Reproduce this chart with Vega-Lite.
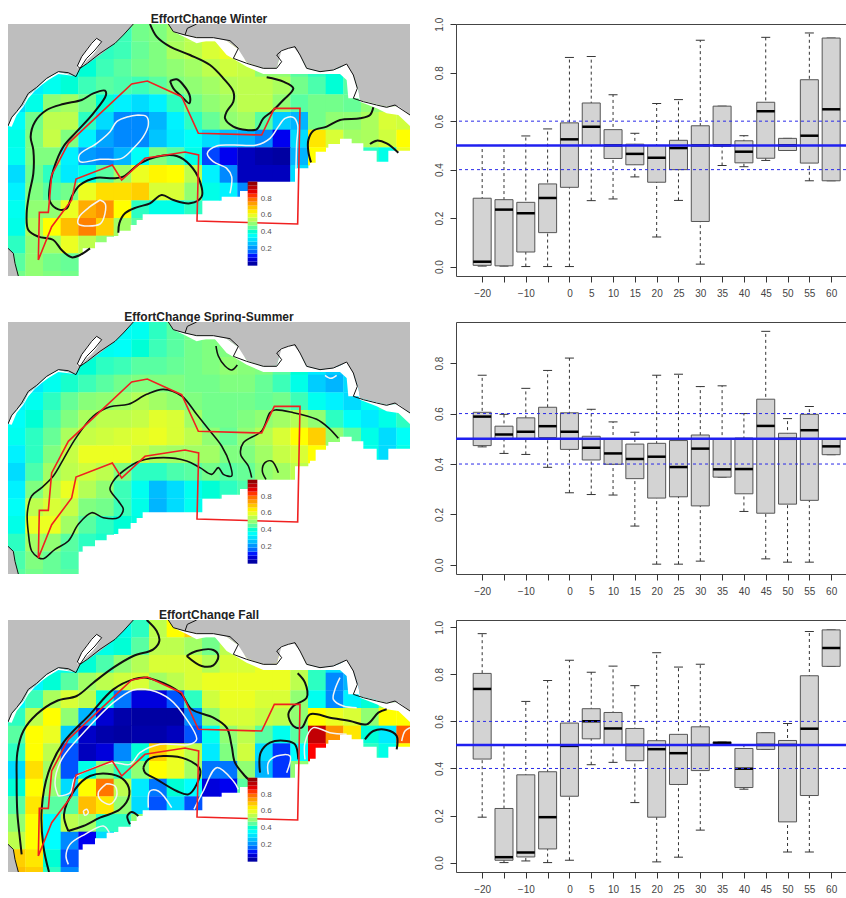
{"$schema":"https://vega.github.io/schema/vega-lite/v6.json","padding":{"left":8,"top":13,"right":0,"bottom":0},"background":"white","bounds":"flush","columns":2,"spacing":{"row":46,"column":46},"config":{"view":{"stroke":null},"text":{"font":"Liberation Sans"},"axis":{"labelFont":"Liberation Sans"}},
"datasets":{
"top":[{"x":24,"c":378,"s":378},{"x":35,"c":355,"s":380},{"x":50,"c":335,"s":345},{"x":70,"c":315,"s":320},{"x":85,"c":285,"s":295},{"x":105,"c":270,"s":272},{"x":125,"c":250,"s":255},{"x":145,"c":232,"s":240},{"x":175,"c":215,"s":222},{"x":225,"c":228,"s":228},{"x":240,"c":205,"s":205},{"x":265,"c":190,"s":190},{"x":300,"c":165,"s":165},{"x":345,"c":130,"s":130},{"x":375,"c":100,"s":100},{"x":400,"c":72,"s":72},{"x":505,"c":72,"s":72},{"x":520,"c":95,"s":95},{"x":555,"c":105,"s":112},{"x":590,"c":113,"s":130},{"x":640,"c":113,"s":118},{"x":680,"c":122,"s":165},{"x":715,"c":148,"s":185},{"x":740,"c":187,"s":200},{"x":790,"c":205,"s":222},{"x":830,"c":203,"s":222},{"x":845,"c":150,"s":222},{"x":880,"c":140,"s":222},{"x":900,"c":165,"s":222},{"x":920,"c":205,"s":222},{"x":960,"c":215,"s":222},{"x":1000,"c":210,"s":222},{"x":1020,"c":203,"s":222},{"x":1040,"c":192,"s":240},{"x":1045,"c":200,"s":295},{"x":1062,"c":230,"s":295},{"x":1075,"c":270,"s":295},{"x":1080,"c":300,"s":305},{"x":1130,"c":312,"s":325},{"x":1160,"c":320,"s":340},{"x":1195,"c":318,"s":345},{"x":1230,"c":345,"s":378}],
"bot":[{"x":24,"b":828},{"x":248,"b":745},{"x":285,"b":727},{"x":320,"b":710},{"x":355,"b":692},{"x":392,"b":675},{"x":410,"b":660},{"x":428,"b":643},{"x":610,"b":625},{"x":645,"b":608},{"x":665,"b":590},{"x":720,"b":573},{"x":745,"b":545},{"x":885,"b":505},{"x":930,"b":488},{"x":947,"b":455},{"x":985,"b":432},{"x":1020,"b":416},{"x":1055,"b":430},{"x":1090,"b":452},{"x":1130,"b":485},{"x":1165,"b":452},{"x":1240,"b":452}],
"lake":[{"x":232,"y":198,"b":205},{"x":245,"y":170,"b":200},{"x":262,"y":145,"b":180},{"x":278,"y":125,"b":165},{"x":290,"y":115,"b":150},{"x":305,"y":125,"b":125}],
"sw":[{"x":24,"y":745},{"x":40,"y":760},{"x":45,"y":790},{"x":55,"y":828}],
"coast":[{"g":1,"x":24,"y":378},{"g":1,"x":35,"y":352},{"g":1,"x":50,"y":335},{"g":1,"x":65,"y":315},{"g":1,"x":85,"y":280},{"g":1,"x":110,"y":262},{"g":1,"x":140,"y":235},{"g":1,"x":175,"y":215},{"g":1,"x":205,"y":218},{"g":1,"x":228,"y":230},{"g":1,"x":240,"y":205},{"g":1,"x":262,"y":190},{"g":1,"x":300,"y":160},{"g":1,"x":345,"y":130},{"g":1,"x":370,"y":105},{"g":1,"x":400,"y":72},{"g":2,"x":505,"y":72},{"g":2,"x":520,"y":95},{"g":2,"x":555,"y":105},{"g":2,"x":590,"y":113},{"g":2,"x":640,"y":113},{"g":2,"x":690,"y":122},{"g":2,"x":715,"y":145},{"g":2,"x":700,"y":175},{"g":2,"x":740,"y":190},{"g":2,"x":790,"y":205},{"g":2,"x":830,"y":205},{"g":2,"x":845,"y":185},{"g":2,"x":830,"y":165},{"g":2,"x":845,"y":152},{"g":2,"x":865,"y":145},{"g":2,"x":885,"y":140},{"g":2,"x":900,"y":165},{"g":2,"x":920,"y":205},{"g":2,"x":960,"y":215},{"g":2,"x":1000,"y":210},{"g":2,"x":1040,"y":192},{"g":2,"x":1060,"y":225},{"g":2,"x":1072,"y":265},{"g":2,"x":1060,"y":295},{"g":2,"x":1090,"y":305},{"g":2,"x":1130,"y":315},{"g":2,"x":1160,"y":322},{"g":2,"x":1185,"y":315},{"g":2,"x":1230,"y":345},{"g":3,"x":555,"y":105},{"g":3,"x":562,"y":85},{"g":3,"x":590,"y":72},{"g":4,"x":24,"y":745},{"g":4,"x":40,"y":760},{"g":4,"x":45,"y":790},{"g":4,"x":55,"y":828},{"g":5,"x":232,"y":198},{"g":5,"x":245,"y":170},{"g":5,"x":275,"y":130},{"g":5,"x":290,"y":115},{"g":5,"x":305,"y":125},{"g":5,"x":285,"y":150},{"g":5,"x":260,"y":175},{"g":5,"x":240,"y":205},{"g":5,"x":232,"y":198}],
"red":[{"x":115,"y":780},{"x":118,"y":637},{"x":145,"y":637},{"x":155,"y":525},{"x":205,"y":430},{"x":395,"y":252},{"x":442,"y":243},{"x":545,"y":290},{"x":595,"y":400},{"x":785,"y":405},{"x":823,"y":325},{"x":900,"y":325},{"x":893,"y":672},{"x":591,"y":663},{"x":596,"y":465},{"x":555,"y":456},{"x":435,"y":475},{"x":365,"y":540},{"x":337,"y":495},{"x":228,"y":537},{"x":215,"y":600},{"x":155,"y":680},{"x":115,"y":780}],
"cb":[{"v":0.024,"y":797,"b":785},{"v":0.071,"y":785,"b":773},{"v":0.119,"y":773,"b":761},{"v":0.167,"y":761,"b":749},{"v":0.214,"y":749,"b":737},{"v":0.262,"y":737,"b":725},{"v":0.31,"y":725,"b":713},{"v":0.357,"y":713,"b":701},{"v":0.405,"y":701,"b":689},{"v":0.452,"y":689,"b":677},{"v":0.5,"y":677,"b":665},{"v":0.548,"y":665,"b":653},{"v":0.595,"y":653,"b":641},{"v":0.643,"y":641,"b":629},{"v":0.69,"y":629,"b":617},{"v":0.738,"y":617,"b":605},{"v":0.786,"y":605,"b":593},{"v":0.833,"y":593,"b":581},{"v":0.881,"y":581,"b":569},{"v":0.929,"y":569,"b":557},{"v":0.976,"y":557,"b":545}],
"cbt":[{"y":596,"t":"0.8"},{"y":646,"t":"0.6"},{"y":696,"t":"0.4"},{"y":747,"t":"0.2"}],
"m1":[{"x":421,"y":98,"v":0.47},{"x":368,"y":98,"v":0.43},{"x":474,"y":98,"v":0.48},{"x":527,"y":98,"v":0.52},{"x":580,"y":98,"v":0.55},
{"x":262,"y":151,"v":0.4},{"x":315,"y":151,"v":0.42},{"x":368,"y":151,"v":0.43},{"x":421,"y":151,"v":0.46},{"x":474,"y":151,"v":0.48},{"x":527,"y":151,"v":0.53},{"x":580,"y":151,"v":0.55},{"x":633,"y":151,"v":0.58},{"x":686,"y":151,"v":0.6},
{"x":156,"y":204,"v":0.36},{"x":209,"y":204,"v":0.38},{"x":262,"y":204,"v":0.4},{"x":315,"y":204,"v":0.43},{"x":368,"y":204,"v":0.45},{"x":421,"y":204,"v":0.47},{"x":474,"y":204,"v":0.48},{"x":527,"y":204,"v":0.5},{"x":580,"y":204,"v":0.52},{"x":633,"y":204,"v":0.55},{"x":686,"y":204,"v":0.57},{"x":739,"y":204,"v":0.56},{"x":792,"y":204,"v":0.5},{"x":845,"y":204,"v":0.5},{"x":898,"y":204,"v":0.45},{"x":951,"y":204,"v":0.42},{"x":1004,"y":204,"v":0.4},
{"x":103,"y":257,"v":0.33},{"x":156,"y":257,"v":0.37},{"x":209,"y":257,"v":0.4},{"x":262,"y":257,"v":0.43},{"x":315,"y":257,"v":0.45},{"x":368,"y":257,"v":0.44},{"x":421,"y":257,"v":0.43},{"x":474,"y":257,"v":0.45},{"x":527,"y":257,"v":0.48},{"x":580,"y":257,"v":0.5},{"x":633,"y":257,"v":0.52},{"x":686,"y":257,"v":0.54},{"x":739,"y":257,"v":0.55},{"x":792,"y":257,"v":0.55},{"x":845,"y":257,"v":0.53},{"x":898,"y":257,"v":0.47},{"x":951,"y":257,"v":0.44},{"x":1004,"y":257,"v":0.4},{"x":1057,"y":257,"v":0.45},
{"x":50,"y":310,"v":0.3},{"x":103,"y":310,"v":0.38},{"x":156,"y":310,"v":0.5},{"x":209,"y":310,"v":0.52},{"x":262,"y":310,"v":0.47},{"x":315,"y":310,"v":0.4},{"x":368,"y":310,"v":0.33},{"x":421,"y":310,"v":0.3},{"x":474,"y":310,"v":0.33},{"x":527,"y":310,"v":0.42},{"x":580,"y":310,"v":0.47},{"x":633,"y":310,"v":0.5},{"x":686,"y":310,"v":0.52},{"x":739,"y":310,"v":0.55},{"x":792,"y":310,"v":0.55},{"x":845,"y":310,"v":0.5},{"x":898,"y":310,"v":0.45},{"x":951,"y":310,"v":0.47},{"x":1004,"y":310,"v":0.47},{"x":1057,"y":310,"v":0.46},{"x":1110,"y":310,"v":0.5},{"x":1163,"y":310,"v":0.52},
{"x":50,"y":363,"v":0.36},{"x":103,"y":363,"v":0.47},{"x":156,"y":363,"v":0.55},{"x":209,"y":363,"v":0.55},{"x":262,"y":363,"v":0.42},{"x":315,"y":363,"v":0.3},{"x":368,"y":363,"v":0.2},{"x":421,"y":363,"v":0.2},{"x":474,"y":363,"v":0.25},{"x":527,"y":363,"v":0.33},{"x":580,"y":363,"v":0.42},{"x":633,"y":363,"v":0.46},{"x":686,"y":363,"v":0.5},{"x":739,"y":363,"v":0.52},{"x":792,"y":363,"v":0.45},{"x":845,"y":363,"v":0.28},{"x":898,"y":363,"v":0.25},{"x":951,"y":363,"v":0.47},{"x":1004,"y":363,"v":0.5},{"x":1057,"y":363,"v":0.5},{"x":1110,"y":363,"v":0.53},{"x":1163,"y":363,"v":0.58},{"x":1216,"y":363,"v":0.57},
{"x":50,"y":416,"v":0.38},{"x":103,"y":416,"v":0.48},{"x":156,"y":416,"v":0.56},{"x":209,"y":416,"v":0.48},{"x":262,"y":416,"v":0.33},{"x":315,"y":416,"v":0.23},{"x":368,"y":416,"v":0.2},{"x":421,"y":416,"v":0.2},{"x":474,"y":416,"v":0.27},{"x":527,"y":416,"v":0.32},{"x":580,"y":416,"v":0.36},{"x":633,"y":416,"v":0.3},{"x":686,"y":416,"v":0.26},{"x":739,"y":416,"v":0.25},{"x":792,"y":416,"v":0.2},{"x":845,"y":416,"v":0.1},{"x":898,"y":416,"v":0.3},{"x":951,"y":416,"v":0.65},{"x":1004,"y":416,"v":0.58},{"x":1057,"y":416,"v":0.52},{"x":1110,"y":416,"v":0.53},{"x":1163,"y":416,"v":0.57},{"x":1216,"y":416,"v":0.62},
{"x":50,"y":469,"v":0.37},{"x":103,"y":469,"v":0.48},{"x":156,"y":469,"v":0.48},{"x":209,"y":469,"v":0.33},{"x":262,"y":469,"v":0.22},{"x":315,"y":469,"v":0.2},{"x":368,"y":469,"v":0.25},{"x":421,"y":469,"v":0.36},{"x":474,"y":469,"v":0.48},{"x":527,"y":469,"v":0.45},{"x":580,"y":469,"v":0.38},{"x":633,"y":469,"v":0.14},{"x":686,"y":469,"v":0.1},{"x":739,"y":469,"v":0.05},{"x":792,"y":469,"v":0.03},{"x":845,"y":469,"v":0.02},{"x":898,"y":469,"v":0.25},{"x":951,"y":469,"v":0.62},{"x":1110,"y":469,"v":0.42},{"x":1163,"y":469,"v":0.38},{"x":1216,"y":469,"v":0.6},
{"x":50,"y":522,"v":0.3},{"x":103,"y":522,"v":0.47},{"x":156,"y":522,"v":0.42},{"x":209,"y":522,"v":0.32},{"x":262,"y":522,"v":0.38},{"x":315,"y":522,"v":0.45},{"x":368,"y":522,"v":0.52},{"x":421,"y":522,"v":0.6},{"x":474,"y":522,"v":0.63},{"x":527,"y":522,"v":0.62},{"x":580,"y":522,"v":0.55},{"x":633,"y":522,"v":0.33},{"x":686,"y":522,"v":0.2},{"x":739,"y":522,"v":0.05},{"x":792,"y":522,"v":0.05},{"x":845,"y":522,"v":0.05},{"x":898,"y":522,"v":0.3},
{"x":50,"y":575,"v":0.33},{"x":103,"y":575,"v":0.48},{"x":156,"y":575,"v":0.45},{"x":209,"y":575,"v":0.47},{"x":262,"y":575,"v":0.6},{"x":315,"y":575,"v":0.66},{"x":368,"y":575,"v":0.66},{"x":421,"y":575,"v":0.68},{"x":474,"y":575,"v":0.58},{"x":527,"y":575,"v":0.58},{"x":580,"y":575,"v":0.5},{"x":633,"y":575,"v":0.38},{"x":686,"y":575,"v":0.33},{"x":739,"y":575,"v":0.2},
{"x":50,"y":628,"v":0.37},{"x":103,"y":628,"v":0.5},{"x":156,"y":628,"v":0.5},{"x":209,"y":628,"v":0.6},{"x":262,"y":628,"v":0.72},{"x":315,"y":628,"v":0.75},{"x":368,"y":628,"v":0.62},{"x":421,"y":628,"v":0.42},{"x":474,"y":628,"v":0.38},{"x":527,"y":628,"v":0.38},{"x":580,"y":628,"v":0.42},
{"x":50,"y":681,"v":0.38},{"x":103,"y":681,"v":0.53},{"x":156,"y":681,"v":0.62},{"x":209,"y":681,"v":0.7},{"x":262,"y":681,"v":0.77},{"x":315,"y":681,"v":0.68},{"x":368,"y":681,"v":0.52},{"x":421,"y":681,"v":0.45},
{"x":50,"y":734,"v":0.42},{"x":103,"y":734,"v":0.5},{"x":156,"y":734,"v":0.52},{"x":209,"y":734,"v":0.6},{"x":262,"y":734,"v":0.55},{"x":315,"y":734,"v":0.5},
{"x":50,"y":787,"v":0.45},{"x":103,"y":787,"v":0.5},{"x":156,"y":787,"v":0.47},{"x":209,"y":787,"v":0.46},{"x":50,"y":840,"v":0.47},{"x":103,"y":840,"v":0.5},{"x":156,"y":840,"v":0.48},{"x":209,"y":840,"v":0.47}],
"k1":[{"g":1,"x":450,"y":72},{"g":1,"x":470,"y":110},{"g":1,"x":510,"y":140},{"g":1,"x":570,"y":165},{"g":1,"x":630,"y":195},{"g":1,"x":670,"y":235},{"g":1,"x":700,"y":275},{"g":1,"x":700,"y":305},{"g":1,"x":680,"y":335},{"g":1,"x":675,"y":355},{"g":1,"x":700,"y":380},{"g":1,"x":740,"y":390},{"g":1,"x":770,"y":388},{"g":1,"x":790,"y":355},{"g":1,"x":815,"y":335},{"g":1,"x":850,"y":300},{"g":1,"x":880,"y":265},{"g":1,"x":850,"y":245},{"g":1,"x":800,"y":232},
{"g":2,"x":510,"y":243},{"g":2,"x":530,"y":238},{"g":2,"x":550,"y":255},{"g":2,"x":570,"y":290},{"g":2,"x":568,"y":310},{"g":2,"x":545,"y":290},{"g":2,"x":520,"y":265},{"g":2,"x":510,"y":243},
{"g":3,"x":270,"y":745},{"g":3,"x":240,"y":765},{"g":3,"x":215,"y":772},{"g":3,"x":185,"y":750},{"g":3,"x":160,"y":720},{"g":3,"x":115,"y":710},{"g":3,"x":85,"y":690},{"g":3,"x":80,"y":640},{"g":3,"x":88,"y":580},{"g":3,"x":100,"y":520},{"g":3,"x":100,"y":450},{"g":3,"x":92,"y":410},{"g":3,"x":105,"y":365},{"g":3,"x":140,"y":330},{"g":3,"x":190,"y":312},{"g":3,"x":245,"y":300},{"g":3,"x":280,"y":280},{"g":3,"x":315,"y":272},{"g":3,"x":318,"y":285},{"g":3,"x":280,"y":340},{"g":3,"x":230,"y":395},{"g":3,"x":190,"y":440},{"g":3,"x":160,"y":510},{"g":3,"x":148,"y":570},{"g":3,"x":150,"y":605},{"g":3,"x":175,"y":628},{"g":3,"x":200,"y":625},{"g":3,"x":215,"y":590},{"g":3,"x":240,"y":555},{"g":3,"x":290,"y":533},{"g":3,"x":340,"y":535},{"g":3,"x":370,"y":530},{"g":3,"x":420,"y":490},{"g":3,"x":470,"y":470},{"g":3,"x":530,"y":468},{"g":3,"x":570,"y":495},{"g":3,"x":600,"y":545},{"g":3,"x":605,"y":590},{"g":3,"x":570,"y":610},{"g":3,"x":520,"y":600},{"g":3,"x":485,"y":585},{"g":3,"x":450,"y":610},{"g":3,"x":410,"y":622},{"g":3,"x":375,"y":640},{"g":3,"x":358,"y":670},{"g":3,"x":355,"y":698},
{"g":4,"x":1120,"y":322},{"g":4,"x":1110,"y":345},{"g":4,"x":1080,"y":355},{"g":4,"x":1020,"y":360},{"g":4,"x":980,"y":380},{"g":4,"x":940,"y":392},{"g":4,"x":925,"y":420},{"g":4,"x":925,"y":455},{"g":4,"x":933,"y":487},
{"g":5,"x":1110,"y":432},{"g":5,"x":1130,"y":422},{"g":5,"x":1160,"y":430},{"g":5,"x":1195,"y":458}],
"c1":[{"g":1,"x":415,"y":345},{"g":1,"x":440,"y":350},{"g":1,"x":445,"y":375},{"g":1,"x":430,"y":410},{"g":1,"x":400,"y":445},{"g":1,"x":365,"y":475},{"g":1,"x":300,"y":478},{"g":1,"x":240,"y":485},{"g":1,"x":238,"y":465},{"g":1,"x":290,"y":430},{"g":1,"x":330,"y":395},{"g":1,"x":350,"y":365},{"g":1,"x":385,"y":350},{"g":1,"x":415,"y":345},
{"g":2,"x":690,"y":580},{"g":2,"x":695,"y":530},{"g":2,"x":680,"y":505},{"g":2,"x":640,"y":485},{"g":2,"x":622,"y":460},{"g":2,"x":650,"y":438},{"g":2,"x":700,"y":435},{"g":2,"x":770,"y":435},{"g":2,"x":810,"y":415},{"g":2,"x":835,"y":380},{"g":2,"x":855,"y":355},{"g":2,"x":880,"y":352},{"g":2,"x":893,"y":375},{"g":2,"x":890,"y":430},{"g":2,"x":888,"y":505},
{"g":3,"x":300,"y":600},{"g":3,"x":315,"y":610},{"g":3,"x":315,"y":640},{"g":3,"x":300,"y":672},{"g":3,"x":235,"y":672},{"g":3,"x":238,"y":650},{"g":3,"x":270,"y":620},{"g":3,"x":300,"y":600}],
"m2":[{"x":368,"y":98,"v":0.36},{"x":421,"y":98,"v":0.37},{"x":474,"y":98,"v":0.42},{"x":527,"y":98,"v":0.45},{"x":580,"y":98,"v":0.47},
{"x":262,"y":151,"v":0.38},{"x":315,"y":151,"v":0.37},{"x":368,"y":151,"v":0.36},{"x":421,"y":151,"v":0.4},{"x":474,"y":151,"v":0.43},{"x":527,"y":151,"v":0.45},{"x":580,"y":151,"v":0.47},{"x":633,"y":151,"v":0.48},{"x":686,"y":151,"v":0.48},
{"x":156,"y":204,"v":0.36},{"x":209,"y":204,"v":0.38},{"x":262,"y":204,"v":0.4},{"x":315,"y":204,"v":0.42},{"x":368,"y":204,"v":0.43},{"x":421,"y":204,"v":0.45},{"x":474,"y":204,"v":0.45},{"x":527,"y":204,"v":0.46},{"x":580,"y":204,"v":0.47},{"x":633,"y":204,"v":0.48},{"x":686,"y":204,"v":0.5},{"x":739,"y":204,"v":0.49},{"x":792,"y":204,"v":0.48},{"x":845,"y":204,"v":0.45},{"x":898,"y":204,"v":0.4},{"x":951,"y":204,"v":0.32},{"x":1004,"y":204,"v":0.28},
{"x":103,"y":257,"v":0.32},{"x":156,"y":257,"v":0.37},{"x":209,"y":257,"v":0.41},{"x":262,"y":257,"v":0.43},{"x":315,"y":257,"v":0.45},{"x":368,"y":257,"v":0.47},{"x":421,"y":257,"v":0.48},{"x":474,"y":257,"v":0.48},{"x":527,"y":257,"v":0.48},{"x":580,"y":257,"v":0.47},{"x":633,"y":257,"v":0.47},{"x":686,"y":257,"v":0.48},{"x":739,"y":257,"v":0.48},{"x":792,"y":257,"v":0.46},{"x":845,"y":257,"v":0.43},{"x":898,"y":257,"v":0.38},{"x":951,"y":257,"v":0.28},{"x":1004,"y":257,"v":0.25},{"x":1057,"y":257,"v":0.3},
{"x":50,"y":310,"v":0.33},{"x":103,"y":310,"v":0.37},{"x":156,"y":310,"v":0.42},{"x":209,"y":310,"v":0.46},{"x":262,"y":310,"v":0.49},{"x":315,"y":310,"v":0.5},{"x":368,"y":310,"v":0.52},{"x":421,"y":310,"v":0.54},{"x":474,"y":310,"v":0.52},{"x":527,"y":310,"v":0.5},{"x":580,"y":310,"v":0.48},{"x":633,"y":310,"v":0.47},{"x":686,"y":310,"v":0.47},{"x":739,"y":310,"v":0.47},{"x":792,"y":310,"v":0.46},{"x":845,"y":310,"v":0.47},{"x":898,"y":310,"v":0.43},{"x":951,"y":310,"v":0.37},{"x":1004,"y":310,"v":0.33},{"x":1057,"y":310,"v":0.3},{"x":1110,"y":310,"v":0.37},{"x":1163,"y":310,"v":0.42},
{"x":50,"y":363,"v":0.36},{"x":103,"y":363,"v":0.4},{"x":156,"y":363,"v":0.44},{"x":209,"y":363,"v":0.48},{"x":262,"y":363,"v":0.53},{"x":315,"y":363,"v":0.55},{"x":368,"y":363,"v":0.55},{"x":421,"y":363,"v":0.56},{"x":474,"y":363,"v":0.59},{"x":527,"y":363,"v":0.58},{"x":580,"y":363,"v":0.52},{"x":633,"y":363,"v":0.47},{"x":686,"y":363,"v":0.47},{"x":739,"y":363,"v":0.48},{"x":792,"y":363,"v":0.5},{"x":845,"y":363,"v":0.52},{"x":898,"y":363,"v":0.54},{"x":951,"y":363,"v":0.5},{"x":1004,"y":363,"v":0.42},{"x":1057,"y":363,"v":0.36},{"x":1110,"y":363,"v":0.32},{"x":1163,"y":363,"v":0.38},{"x":1216,"y":363,"v":0.42},
{"x":50,"y":416,"v":0.37},{"x":103,"y":416,"v":0.42},{"x":156,"y":416,"v":0.46},{"x":209,"y":416,"v":0.53},{"x":262,"y":416,"v":0.56},{"x":315,"y":416,"v":0.57},{"x":368,"y":416,"v":0.58},{"x":421,"y":416,"v":0.59},{"x":474,"y":416,"v":0.6},{"x":527,"y":416,"v":0.58},{"x":580,"y":416,"v":0.55},{"x":633,"y":416,"v":0.5},{"x":686,"y":416,"v":0.46},{"x":739,"y":416,"v":0.5},{"x":792,"y":416,"v":0.54},{"x":845,"y":416,"v":0.58},{"x":898,"y":416,"v":0.62},{"x":951,"y":416,"v":0.68},{"x":1004,"y":416,"v":0.5},{"x":1057,"y":416,"v":0.45},{"x":1110,"y":416,"v":0.38},{"x":1163,"y":416,"v":0.3},{"x":1216,"y":416,"v":0.36},
{"x":50,"y":469,"v":0.33},{"x":103,"y":469,"v":0.42},{"x":156,"y":469,"v":0.48},{"x":209,"y":469,"v":0.56},{"x":262,"y":469,"v":0.6},{"x":315,"y":469,"v":0.6},{"x":368,"y":469,"v":0.6},{"x":421,"y":469,"v":0.56},{"x":474,"y":469,"v":0.53},{"x":527,"y":469,"v":0.52},{"x":580,"y":469,"v":0.52},{"x":633,"y":469,"v":0.52},{"x":686,"y":469,"v":0.48},{"x":739,"y":469,"v":0.48},{"x":792,"y":469,"v":0.52},{"x":845,"y":469,"v":0.56},{"x":898,"y":469,"v":0.58},{"x":951,"y":469,"v":0.62},{"x":1110,"y":469,"v":0.38},{"x":1163,"y":469,"v":0.3},{"x":1216,"y":469,"v":0.38},
{"x":50,"y":522,"v":0.3},{"x":103,"y":522,"v":0.44},{"x":156,"y":522,"v":0.52},{"x":209,"y":522,"v":0.55},{"x":262,"y":522,"v":0.57},{"x":315,"y":522,"v":0.55},{"x":368,"y":522,"v":0.48},{"x":421,"y":522,"v":0.42},{"x":474,"y":522,"v":0.42},{"x":527,"y":522,"v":0.44},{"x":580,"y":522,"v":0.45},{"x":633,"y":522,"v":0.47},{"x":686,"y":522,"v":0.45},{"x":739,"y":522,"v":0.46},{"x":792,"y":522,"v":0.5},{"x":845,"y":522,"v":0.52},{"x":898,"y":522,"v":0.55},
{"x":50,"y":575,"v":0.33},{"x":103,"y":575,"v":0.48},{"x":156,"y":575,"v":0.55},{"x":209,"y":575,"v":0.6},{"x":262,"y":575,"v":0.54},{"x":315,"y":575,"v":0.5},{"x":368,"y":575,"v":0.43},{"x":421,"y":575,"v":0.37},{"x":474,"y":575,"v":0.26},{"x":527,"y":575,"v":0.3},{"x":580,"y":575,"v":0.37},{"x":633,"y":575,"v":0.4},{"x":686,"y":575,"v":0.42},{"x":739,"y":575,"v":0.44},
{"x":50,"y":628,"v":0.36},{"x":103,"y":628,"v":0.55},{"x":156,"y":628,"v":0.58},{"x":209,"y":628,"v":0.56},{"x":262,"y":628,"v":0.48},{"x":315,"y":628,"v":0.47},{"x":368,"y":628,"v":0.43},{"x":421,"y":628,"v":0.38},{"x":474,"y":628,"v":0.25},{"x":527,"y":628,"v":0.3},{"x":580,"y":628,"v":0.37},
{"x":50,"y":681,"v":0.38},{"x":103,"y":681,"v":0.6},{"x":156,"y":681,"v":0.6},{"x":209,"y":681,"v":0.52},{"x":262,"y":681,"v":0.45},{"x":315,"y":681,"v":0.42},{"x":368,"y":681,"v":0.4},{"x":421,"y":681,"v":0.39},
{"x":50,"y":734,"v":0.42},{"x":103,"y":734,"v":0.52},{"x":156,"y":734,"v":0.5},{"x":209,"y":734,"v":0.45},{"x":262,"y":734,"v":0.42},{"x":315,"y":734,"v":0.41},
{"x":50,"y":787,"v":0.44},{"x":103,"y":787,"v":0.48},{"x":156,"y":787,"v":0.46},{"x":209,"y":787,"v":0.44},{"x":50,"y":840,"v":0.45},{"x":103,"y":840,"v":0.47},{"x":156,"y":840,"v":0.46},{"x":209,"y":840,"v":0.45}],
"k2":[{"g":1,"x":648,"y":144},{"g":1,"x":655,"y":174},{"g":1,"x":675,"y":204},{"g":1,"x":695,"y":216},{"g":1,"x":712,"y":201},
{"g":2,"x":115,"y":779},{"g":2,"x":95,"y":759},{"g":2,"x":85,"y":704},{"g":2,"x":82,"y":644},{"g":2,"x":95,"y":594},{"g":2,"x":125,"y":569},{"g":2,"x":160,"y":534},{"g":2,"x":190,"y":484},{"g":2,"x":225,"y":424},{"g":2,"x":280,"y":354},{"g":2,"x":330,"y":326},{"g":2,"x":385,"y":319},{"g":2,"x":440,"y":289},{"g":2,"x":490,"y":274},{"g":2,"x":545,"y":294},{"g":2,"x":590,"y":349},{"g":2,"x":630,"y":399},{"g":2,"x":665,"y":444},{"g":2,"x":690,"y":499},{"g":2,"x":695,"y":534},{"g":2,"x":670,"y":529},{"g":2,"x":655,"y":509},{"g":2,"x":635,"y":529},{"g":2,"x":600,"y":509},{"g":2,"x":560,"y":489},{"g":2,"x":490,"y":479},{"g":2,"x":420,"y":489},{"g":2,"x":370,"y":519},{"g":2,"x":340,"y":549},{"g":2,"x":330,"y":574},{"g":2,"x":355,"y":609},{"g":2,"x":370,"y":634},{"g":2,"x":355,"y":659},{"g":2,"x":310,"y":659},{"g":2,"x":275,"y":644},{"g":2,"x":235,"y":679},{"g":2,"x":205,"y":729},{"g":2,"x":165,"y":754},{"g":2,"x":130,"y":782},{"g":2,"x":115,"y":779},
{"g":3,"x":755,"y":539},{"g":3,"x":745,"y":504},{"g":3,"x":722,"y":469},{"g":3,"x":730,"y":434},{"g":3,"x":785,"y":399},{"g":3,"x":810,"y":344},{"g":3,"x":825,"y":336},{"g":3,"x":880,"y":344},{"g":3,"x":950,"y":364},{"g":3,"x":985,"y":389},{"g":3,"x":1015,"y":421},
{"g":4,"x":798,"y":544},{"g":4,"x":787,"y":519},{"g":4,"x":795,"y":494},{"g":4,"x":815,"y":489},{"g":4,"x":835,"y":524}],
"c2":[{"g":1,"x":975,"y":232},{"g":1,"x":993,"y":241},{"g":1,"x":1010,"y":232}],
"m3":[{"x":368,"y":98,"v":0.38},{"x":421,"y":98,"v":0.42},{"x":474,"y":98,"v":0.55},{"x":527,"y":98,"v":0.62},{"x":580,"y":98,"v":0.68},
{"x":262,"y":151,"v":0.38},{"x":315,"y":151,"v":0.38},{"x":368,"y":151,"v":0.4},{"x":421,"y":151,"v":0.45},{"x":474,"y":151,"v":0.55},{"x":527,"y":151,"v":0.55},{"x":580,"y":151,"v":0.52},{"x":633,"y":151,"v":0.47},{"x":686,"y":151,"v":0.55},
{"x":156,"y":204,"v":0.36},{"x":209,"y":204,"v":0.38},{"x":262,"y":204,"v":0.4},{"x":315,"y":204,"v":0.44},{"x":368,"y":204,"v":0.5},{"x":421,"y":204,"v":0.54},{"x":474,"y":204,"v":0.58},{"x":527,"y":204,"v":0.58},{"x":580,"y":204,"v":0.58},{"x":633,"y":204,"v":0.54},{"x":686,"y":204,"v":0.58},{"x":739,"y":204,"v":0.58},{"x":792,"y":204,"v":0.6},{"x":845,"y":204,"v":0.6},{"x":898,"y":204,"v":0.55},{"x":951,"y":204,"v":0.42},{"x":1004,"y":204,"v":0.3},
{"x":103,"y":257,"v":0.34},{"x":156,"y":257,"v":0.4},{"x":209,"y":257,"v":0.45},{"x":262,"y":257,"v":0.52},{"x":315,"y":257,"v":0.55},{"x":368,"y":257,"v":0.57},{"x":421,"y":257,"v":0.58},{"x":474,"y":257,"v":0.52},{"x":527,"y":257,"v":0.55},{"x":580,"y":257,"v":0.58},{"x":633,"y":257,"v":0.6},{"x":686,"y":257,"v":0.6},{"x":739,"y":257,"v":0.6},{"x":792,"y":257,"v":0.6},{"x":845,"y":257,"v":0.6},{"x":898,"y":257,"v":0.55},{"x":951,"y":257,"v":0.42},{"x":1004,"y":257,"v":0.2},{"x":1057,"y":257,"v":0.25},
{"x":50,"y":310,"v":0.35},{"x":103,"y":310,"v":0.43},{"x":156,"y":310,"v":0.53},{"x":209,"y":310,"v":0.58},{"x":262,"y":310,"v":0.55},{"x":315,"y":310,"v":0.4},{"x":368,"y":310,"v":0.18},{"x":421,"y":310,"v":0.08},{"x":474,"y":310,"v":0.08},{"x":527,"y":310,"v":0.15},{"x":580,"y":310,"v":0.42},{"x":633,"y":310,"v":0.57},{"x":686,"y":310,"v":0.6},{"x":739,"y":310,"v":0.6},{"x":792,"y":310,"v":0.58},{"x":845,"y":310,"v":0.58},{"x":898,"y":310,"v":0.5},{"x":951,"y":310,"v":0.37},{"x":1004,"y":310,"v":0.2},{"x":1057,"y":310,"v":0.33},{"x":1110,"y":310,"v":0.4},{"x":1163,"y":310,"v":0.5},
{"x":50,"y":363,"v":0.42},{"x":103,"y":363,"v":0.55},{"x":156,"y":363,"v":0.62},{"x":209,"y":363,"v":0.5},{"x":262,"y":363,"v":0.25},{"x":315,"y":363,"v":0.07},{"x":368,"y":363,"v":0.03},{"x":421,"y":363,"v":0.02},{"x":474,"y":363,"v":0.02},{"x":527,"y":363,"v":0.02},{"x":580,"y":363,"v":0.2},{"x":633,"y":363,"v":0.5},{"x":686,"y":363,"v":0.58},{"x":739,"y":363,"v":0.58},{"x":792,"y":363,"v":0.56},{"x":845,"y":363,"v":0.55},{"x":898,"y":363,"v":0.5},{"x":951,"y":363,"v":0.62},{"x":1004,"y":363,"v":0.6},{"x":1057,"y":363,"v":0.58},{"x":1110,"y":363,"v":0.5},{"x":1163,"y":363,"v":0.62},{"x":1216,"y":363,"v":0.62},
{"x":50,"y":416,"v":0.45},{"x":103,"y":416,"v":0.62},{"x":156,"y":416,"v":0.6},{"x":209,"y":416,"v":0.28},{"x":262,"y":416,"v":0.06},{"x":315,"y":416,"v":0.03},{"x":368,"y":416,"v":0.02},{"x":421,"y":416,"v":0.03},{"x":474,"y":416,"v":0.03},{"x":527,"y":416,"v":0.05},{"x":580,"y":416,"v":0.15},{"x":633,"y":416,"v":0.37},{"x":686,"y":416,"v":0.5},{"x":739,"y":416,"v":0.55},{"x":792,"y":416,"v":0.45},{"x":845,"y":416,"v":0.37},{"x":898,"y":416,"v":0.45},{"x":951,"y":416,"v":0.92},{"x":1004,"y":416,"v":0.75},{"x":1057,"y":416,"v":0.65},{"x":1110,"y":416,"v":0.4},{"x":1163,"y":416,"v":0.32},{"x":1216,"y":416,"v":0.8},
{"x":50,"y":469,"v":0.42},{"x":103,"y":469,"v":0.62},{"x":156,"y":469,"v":0.55},{"x":209,"y":469,"v":0.15},{"x":262,"y":469,"v":0.05},{"x":315,"y":469,"v":0.08},{"x":368,"y":469,"v":0.2},{"x":421,"y":469,"v":0.4},{"x":474,"y":469,"v":0.68},{"x":527,"y":469,"v":0.6},{"x":580,"y":469,"v":0.55},{"x":633,"y":469,"v":0.32},{"x":686,"y":469,"v":0.48},{"x":739,"y":469,"v":0.57},{"x":792,"y":469,"v":0.3},{"x":845,"y":469,"v":0.13},{"x":898,"y":469,"v":0.35},{"x":951,"y":469,"v":0.85},{"x":1110,"y":469,"v":0.42},{"x":1163,"y":469,"v":0.38},{"x":1216,"y":469,"v":0.62},
{"x":50,"y":522,"v":0.3},{"x":103,"y":522,"v":0.66},{"x":156,"y":522,"v":0.52},{"x":209,"y":522,"v":0.15},{"x":262,"y":522,"v":0.38},{"x":315,"y":522,"v":0.5},{"x":368,"y":522,"v":0.42},{"x":421,"y":522,"v":0.5},{"x":474,"y":522,"v":0.62},{"x":527,"y":522,"v":0.6},{"x":580,"y":522,"v":0.52},{"x":633,"y":522,"v":0.18},{"x":686,"y":522,"v":0.18},{"x":739,"y":522,"v":0.5},{"x":792,"y":522,"v":0.25},{"x":845,"y":522,"v":0.13},{"x":898,"y":522,"v":0.5},
{"x":50,"y":575,"v":0.4},{"x":103,"y":575,"v":0.62},{"x":156,"y":575,"v":0.5},{"x":209,"y":575,"v":0.3},{"x":262,"y":575,"v":0.62},{"x":315,"y":575,"v":0.78},{"x":368,"y":575,"v":0.55},{"x":421,"y":575,"v":0.32},{"x":474,"y":575,"v":0.18},{"x":527,"y":575,"v":0.4},{"x":580,"y":575,"v":0.35},{"x":633,"y":575,"v":0.08},{"x":686,"y":575,"v":0.1},{"x":739,"y":575,"v":0.45},
{"x":50,"y":628,"v":0.45},{"x":103,"y":628,"v":0.65},{"x":156,"y":628,"v":0.45},{"x":209,"y":628,"v":0.45},{"x":262,"y":628,"v":0.7},{"x":315,"y":628,"v":0.65},{"x":368,"y":628,"v":0.5},{"x":421,"y":628,"v":0.3},{"x":474,"y":628,"v":0.15},{"x":527,"y":628,"v":0.3},{"x":580,"y":628,"v":0.15},
{"x":50,"y":681,"v":0.5},{"x":103,"y":681,"v":0.62},{"x":156,"y":681,"v":0.35},{"x":209,"y":681,"v":0.55},{"x":262,"y":681,"v":0.52},{"x":315,"y":681,"v":0.42},{"x":368,"y":681,"v":0.42},{"x":421,"y":681,"v":0.5},
{"x":50,"y":734,"v":0.55},{"x":103,"y":734,"v":0.62},{"x":156,"y":734,"v":0.35},{"x":209,"y":734,"v":0.2},{"x":262,"y":734,"v":0.1},{"x":315,"y":734,"v":0.3},
{"x":50,"y":787,"v":0.68},{"x":103,"y":787,"v":0.65},{"x":156,"y":787,"v":0.4},{"x":209,"y":787,"v":0.15},{"x":50,"y":840,"v":0.7},{"x":103,"y":840,"v":0.68},{"x":156,"y":840,"v":0.42},{"x":209,"y":840,"v":0.2}],
"k3":[{"g":1,"x":440,"y":72},{"g":1,"x":470,"y":105},{"g":1,"x":478,"y":135},{"g":1,"x":460,"y":160},{"g":1,"x":400,"y":180},{"g":1,"x":340,"y":215},{"g":1,"x":280,"y":260},{"g":1,"x":230,"y":300},{"g":1,"x":170,"y":315},{"g":1,"x":110,"y":355},{"g":1,"x":70,"y":405},{"g":1,"x":52,"y":470},{"g":1,"x":50,"y":550},{"g":1,"x":52,"y":650},{"g":1,"x":60,"y":730},{"g":1,"x":65,"y":775},
{"g":2,"x":560,"y":180},{"g":2,"x":590,"y":165},{"g":2,"x":640,"y":162},{"g":2,"x":655,"y":180},{"g":2,"x":640,"y":208},{"g":2,"x":605,"y":210},{"g":2,"x":560,"y":180},
{"g":3,"x":147,"y":828},{"g":3,"x":130,"y":750},{"g":3,"x":125,"y":640},{"g":3,"x":145,"y":530},{"g":3,"x":190,"y":440},{"g":3,"x":270,"y":355},{"g":3,"x":340,"y":280},{"g":3,"x":400,"y":250},{"g":3,"x":440,"y":245},{"g":3,"x":540,"y":290},{"g":3,"x":575,"y":340},{"g":3,"x":640,"y":365},{"g":3,"x":680,"y":395},{"g":3,"x":695,"y":450},{"g":3,"x":705,"y":500},{"g":3,"x":735,"y":540},{"g":3,"x":745,"y":550},
{"g":4,"x":893,"y":232},{"g":4,"x":915,"y":260},{"g":4,"x":920,"y":305},{"g":4,"x":880,"y":330},{"g":4,"x":865,"y":355},{"g":4,"x":880,"y":390},{"g":4,"x":905,"y":395},{"g":4,"x":930,"y":355},{"g":4,"x":990,"y":365},{"g":4,"x":1050,"y":375},{"g":4,"x":1100,"y":385},{"g":4,"x":1135,"y":350},{"g":4,"x":1160,"y":340},
{"g":5,"x":780,"y":530},{"g":5,"x":782,"y":470},{"g":5,"x":810,"y":440},{"g":5,"x":860,"y":435},{"g":5,"x":885,"y":445},{"g":5,"x":895,"y":490},
{"g":6,"x":1190,"y":460},{"g":6,"x":1190,"y":420},{"g":6,"x":1160,"y":402},{"g":6,"x":1120,"y":405},{"g":6,"x":1095,"y":430},
{"g":7,"x":430,"y":515},{"g":7,"x":445,"y":490},{"g":7,"x":490,"y":480},{"g":7,"x":560,"y":490},{"g":7,"x":600,"y":520},{"g":7,"x":590,"y":565},{"g":7,"x":565,"y":595},{"g":7,"x":530,"y":585},{"g":7,"x":470,"y":550},{"g":7,"x":435,"y":530},{"g":7,"x":430,"y":515},
{"g":8,"x":205,"y":705},{"g":8,"x":192,"y":655},{"g":8,"x":225,"y":580},{"g":8,"x":270,"y":540},{"g":8,"x":335,"y":535},{"g":8,"x":375,"y":555},{"g":8,"x":388,"y":595},{"g":8,"x":360,"y":640},{"g":8,"x":300,"y":665},{"g":8,"x":250,"y":690},{"g":8,"x":205,"y":705},
{"g":9,"x":390,"y":685},{"g":9,"x":382,"y":660},{"g":9,"x":395,"y":648},{"g":9,"x":415,"y":660}],
"c3":[{"g":1,"x":175,"y":600},{"g":1,"x":165,"y":560},{"g":1,"x":185,"y":490},{"g":1,"x":260,"y":400},{"g":1,"x":340,"y":320},{"g":1,"x":400,"y":282},{"g":1,"x":450,"y":282},{"g":1,"x":510,"y":310},{"g":1,"x":560,"y":370},{"g":1,"x":590,"y":430},{"g":1,"x":570,"y":445},{"g":1,"x":480,"y":445},{"g":1,"x":420,"y":470},{"g":1,"x":390,"y":505},{"g":1,"x":340,"y":500},{"g":1,"x":270,"y":520},{"g":1,"x":225,"y":545},{"g":1,"x":210,"y":590},{"g":1,"x":175,"y":600},
{"g":2,"x":1020,"y":245},{"g":2,"x":1005,"y":280},{"g":2,"x":1000,"y":310},{"g":2,"x":1030,"y":330},{"g":2,"x":1070,"y":335},
{"g":3,"x":205,"y":805},{"g":3,"x":198,"y":780},{"g":3,"x":210,"y":745},{"g":3,"x":255,"y":715},{"g":3,"x":310,"y":690},{"g":3,"x":328,"y":710},
{"g":4,"x":582,"y":640},{"g":4,"x":610,"y":585},{"g":4,"x":650,"y":515},{"g":4,"x":700,"y":555},{"g":4,"x":715,"y":580},
{"g":5,"x":445,"y":635},{"g":5,"x":450,"y":585},{"g":5,"x":475,"y":585},{"g":5,"x":515,"y":635},
{"g":6,"x":805,"y":535},{"g":6,"x":805,"y":500},{"g":6,"x":830,"y":480},{"g":6,"x":870,"y":480},{"g":6,"x":860,"y":530},
{"g":7,"x":915,"y":490},{"g":7,"x":915,"y":440},{"g":7,"x":940,"y":395},{"g":7,"x":990,"y":410},{"g":7,"x":1040,"y":415},
{"g":8,"x":1205,"y":435},{"g":8,"x":1215,"y":405},{"g":8,"x":1230,"y":395},
{"g":9,"x":320,"y":563},{"g":9,"x":345,"y":570},{"g":9,"x":350,"y":600},{"g":9,"x":330,"y":625},{"g":9,"x":300,"y":610},{"g":9,"x":295,"y":590},{"g":9,"x":320,"y":563},
{"g":10,"x":250,"y":645},{"g":10,"x":260,"y":640},{"g":10,"x":265,"y":650},{"g":10,"x":255,"y":658},{"g":10,"x":250,"y":645}],
"b1":[{"p":-20,"lo":0.002,"q1":0.005,"m":0.02,"q3":0.282,"hi":0.5},{"p":-15,"lo":0.002,"q1":0.003,"m":0.235,"q3":0.276,"hi":0.5},{"p":-10,"lo":0,"q1":0.06,"m":0.22,"q3":0.265,"hi":0.539},{"p":-5,"lo":0,"q1":0.14,"m":0.283,"q3":0.341,"hi":0.568},{"p":0,"lo":0,"q1":0.327,"m":0.525,"q3":0.593,"hi":0.863},{"p":5,"lo":0.272,"q1":0.5,"m":0.577,"q3":0.675,"hi":0.867},{"p":10,"lo":0.279,"q1":0.446,"m":0.5,"q3":0.565,"hi":0.709},{"p":15,"lo":0.37,"q1":0.42,"m":0.465,"q3":0.505,"hi":0.55},{"p":20,"lo":0.122,"q1":0.348,"m":0.449,"q3":0.5,"hi":0.673},{"p":25,"lo":0.273,"q1":0.4,"m":0.489,"q3":0.521,"hi":0.689},{"p":30,"lo":0.01,"q1":0.186,"m":0.5,"q3":0.581,"hi":0.934},{"p":35,"lo":0.417,"q1":0.5,"m":0.5,"q3":0.662,"hi":0.662},{"p":40,"lo":0.412,"q1":0.428,"m":0.474,"q3":0.519,"hi":0.54},{"p":45,"lo":0.438,"q1":0.447,"m":0.641,"q3":0.678,"hi":0.946},{"p":50,"lo":0.479,"q1":0.479,"m":0.5,"q3":0.529,"hi":0.529},{"p":55,"lo":0.354,"q1":0.427,"m":0.54,"q3":0.771,"hi":0.964},{"p":60,"lo":0.354,"q1":0.354,"m":0.649,"q3":0.943,"hi":0.943}],
"b2":[{"p":-20,"lo":0.468,"q1":0.473,"m":0.588,"q3":0.605,"hi":0.752},{"p":-15,"lo":0.442,"q1":0.5,"m":0.517,"q3":0.55,"hi":0.597},{"p":-10,"lo":0.438,"q1":0.5,"m":0.528,"q3":0.583,"hi":0.7},{"p":-5,"lo":0.387,"q1":0.505,"m":0.55,"q3":0.625,"hi":0.771},{"p":0,"lo":0.286,"q1":0.458,"m":0.528,"q3":0.603,"hi":0.82},{"p":5,"lo":0.279,"q1":0.416,"m":0.464,"q3":0.51,"hi":0.617},{"p":10,"lo":0.277,"q1":0.399,"m":0.442,"q3":0.5,"hi":0.567},{"p":15,"lo":0.154,"q1":0.342,"m":0.42,"q3":0.479,"hi":0.526},{"p":20,"lo":0.003,"q1":0.265,"m":0.429,"q3":0.482,"hi":0.752},{"p":25,"lo":0.003,"q1":0.27,"m":0.388,"q3":0.493,"hi":0.756},{"p":30,"lo":0.015,"q1":0.234,"m":0.461,"q3":0.515,"hi":0.707},{"p":35,"lo":0.348,"q1":0.348,"m":0.379,"q3":0.5,"hi":0.71},{"p":40,"lo":0.212,"q1":0.282,"m":0.38,"q3":0.503,"hi":0.6},{"p":45,"lo":0.024,"q1":0.205,"m":0.551,"q3":0.657,"hi":0.926},{"p":50,"lo":0.011,"q1":0.241,"m":0.5,"q3":0.522,"hi":0.58},{"p":55,"lo":0.011,"q1":0.256,"m":0.534,"q3":0.597,"hi":0.628},{"p":60,"lo":0.437,"q1":0.437,"m":0.47,"q3":0.5,"hi":0.5}],
"b3":[{"p":-20,"lo":0.193,"q1":0.44,"m":0.738,"q3":0.804,"hi":0.973},{"p":-15,"lo":0,"q1":0.01,"m":0.023,"q3":0.23,"hi":0.5},{"p":-10,"lo":0.007,"q1":0.024,"m":0.043,"q3":0.373,"hi":0.685},{"p":-5,"lo":0,"q1":0.058,"m":0.193,"q3":0.386,"hi":0.774},{"p":0,"lo":0.01,"q1":0.282,"m":0.496,"q3":0.593,"hi":0.86},{"p":5,"lo":0.416,"q1":0.526,"m":0.601,"q3":0.654,"hi":0.809},{"p":10,"lo":0.426,"q1":0.5,"m":0.57,"q3":0.638,"hi":0.835},{"p":15,"lo":0.255,"q1":0.433,"m":0.5,"q3":0.57,"hi":0.752},{"p":20,"lo":0.003,"q1":0.193,"m":0.482,"q3":0.518,"hi":0.892},{"p":25,"lo":0.023,"q1":0.332,"m":0.465,"q3":0.545,"hi":0.831},{"p":30,"lo":0.138,"q1":0.391,"m":0.5,"q3":0.577,"hi":0.843},{"p":35,"lo":0.5,"q1":0.5,"m":0.508,"q3":0.513,"hi":0.513},{"p":40,"lo":0.312,"q1":0.319,"m":0.399,"q3":0.485,"hi":0.5},{"p":45,"lo":0.481,"q1":0.481,"m":0.5,"q3":0.552,"hi":0.552},{"p":50,"lo":0.045,"q1":0.173,"m":0.5,"q3":0.519,"hi":0.591},{"p":55,"lo":0.045,"q1":0.285,"m":0.569,"q3":0.794,"hi":0.982},{"p":60,"lo":0.834,"q1":0.834,"m":0.912,"q3":0.989,"hi":0.989}],
"mid":[{"y":0.5}],"dash":[{"y":0.4},{"y":0.6}]
},
"concat":[
{"width":402,"height":252,"layer":[
{"data":{"values":[{"t":"EffortChange  Winter"}]},"mark":{"type":"text","fontWeight":"bold","fontSize":12,"baseline":"alphabetic","color":"#222"},"encoding":{"x":{"datum":627,"type":"quantitative","scale":{"domain":[24,1230]},"axis":null},"y":{"datum":70,"type":"quantitative","scale":{"domain":[828,72]},"axis":null},"text":{"field":"t"}}},
{"encoding":{"x":{"field":"x","type":"quantitative","scale":{"domain":[24,1230]},"axis":null},"y":{"field":"y","type":"quantitative","scale":{"domain":[828,72]},"axis":null}},"layer":[
{"data":{"name":"m1"},"mark":{"type":"rect","width":18,"height":18,"clip":true},"encoding":{"color":{"field":"v","type":"quantitative","legend":null,"scale":{"domain":[0,0.115,0.35,0.48,0.62,0.85,1],"range":["#00008f","#0000ff","#00ffff","#80ff80","#ffff00","#ff0000","#800000"]}}}},
{"data":{"name":"bot"},"mark":{"type":"area","interpolate":"step-after","color":"white","clip":true},"encoding":{"y":{"field":"b","type":"quantitative"},"y2":{"datum":840}}},
{"data":{"name":"top"},"mark":{"type":"area","color":"white","clip":true},"encoding":{"y":{"field":"c","type":"quantitative"},"y2":{"field":"s"}}},
{"data":{"name":"top"},"mark":{"type":"area","color":"#bebebe","clip":true},"encoding":{"y":{"field":"c","type":"quantitative"},"y2":{"datum":72}}},
{"data":{"name":"lake"},"mark":{"type":"area","color":"white"},"encoding":{"y2":{"field":"b"}}},
{"data":{"name":"sw"},"mark":{"type":"area","color":"#bebebe"},"encoding":{"y2":{"datum":828}}},
{"data":{"name":"coast"},"mark":{"type":"line","order":null,"color":"#111","strokeWidth":1,"clip":true},"encoding":{"detail":{"field":"g"}}},
{"data":{"name":"k1"},"mark":{"type":"line","order":null,"interpolate":"catmull-rom","color":"#111","strokeWidth":2,"clip":true},"encoding":{"detail":{"field":"g"}}},
{"data":{"name":"c1"},"mark":{"type":"line","order":null,"interpolate":"catmull-rom","color":"#f4f4f4","strokeWidth":1.5,"clip":true},"encoding":{"detail":{"field":"g"}}},
{"data":{"name":"red"},"mark":{"type":"line","order":null,"color":"#f02020","strokeWidth":1.6}}
]},
{"data":{"name":"cb"},"mark":{"type":"rect"},"encoding":{"x":{"datum":743,"type":"quantitative","scale":{"domain":[24,1230]},"axis":null},"x2":{"datum":772},"y":{"field":"y","type":"quantitative","scale":{"domain":[828,72]},"axis":null},"y2":{"field":"b"},"color":{"field":"v","type":"quantitative","legend":null}}},
{"data":{"name":"cbt"},"mark":{"type":"text","align":"left","fontSize":8,"color":"#555"},"encoding":{"x":{"datum":782,"type":"quantitative","scale":{"domain":[24,1230]},"axis":null},"y":{"field":"y","type":"quantitative","scale":{"domain":[828,72]},"axis":null},"text":{"field":"t"}}}
]},
{"width":390,"height":252,"view":{"stroke":"#444","strokeWidth":1},"layer":[{"data":{"name":"b1"},"encoding":{"x":{"field":"p","type":"quantitative","scale":{"domain":[-26,63.4],"nice":false,"zero":false},"axis":{"values":[-20,-15,-10,-5,0,5,10,15,20,25,30,35,40,45,50,55,60],"labelExpr":"datum.value==-15||datum.value==-5?'':datum.label","title":null,"grid":false,"domain":false,"tickColor":"#333","tickSize":6,"labelColor":"#444","labelFontSize":10,"labelPadding":6,"labelOverlap":false,"labelFlush":false}}},"layer":[
{"mark":{"type":"rule","color":"#333","strokeWidth":1,"strokeDash":[3,3]},"encoding":{"y":{"field":"lo","type":"quantitative","scale":{"domain":[-0.039,1.001],"nice":false,"zero":false},"axis":{"values":[0,0.2,0.4,0.6,0.8,1],"format":".1f","title":null,"grid":false,"domain":false,"tickColor":"#333","tickSize":6,"labelColor":"#444","labelFontSize":10,"labelAngle":-90,"labelAlign":"center","labelBaseline":"middle","labelPadding":11}},"y2":{"field":"hi"}}},
{"mark":{"type":"tick","orient":"horizontal","size":9,"thickness":1,"color":"#333","opacity":1},"encoding":{"y":{"field":"lo","type":"quantitative"}}},
{"mark":{"type":"tick","orient":"horizontal","size":9,"thickness":1,"color":"#333","opacity":1},"encoding":{"y":{"field":"hi","type":"quantitative"}}},
{"mark":{"type":"rect","width":18,"fill":"#d3d3d3","stroke":"#555","strokeWidth":1},"encoding":{"y":{"field":"q1","type":"quantitative"},"y2":{"field":"q3"}}},
{"mark":{"type":"tick","orient":"horizontal","size":18,"thickness":2.5,"color":"black","opacity":1},"encoding":{"y":{"field":"m","type":"quantitative"}}}]},
{"data":{"name":"dash"},"mark":{"type":"rule","color":"#2a2ae8","strokeWidth":1,"strokeDash":[3,3]},"encoding":{"y":{"field":"y","type":"quantitative"}}},
{"data":{"name":"mid"},"mark":{"type":"rule","color":"#2020f0","strokeWidth":2.5},"encoding":{"y":{"field":"y","type":"quantitative"}}}
]},
{"width":402,"height":252,"layer":[
{"data":{"values":[{"t":"EffortChange  Spring-Summer"}]},"mark":{"type":"text","fontWeight":"bold","fontSize":12,"baseline":"alphabetic","color":"#222"},"encoding":{"x":{"datum":627,"type":"quantitative","scale":{"domain":[24,1230]},"axis":null},"y":{"datum":70,"type":"quantitative","scale":{"domain":[828,72]},"axis":null},"text":{"field":"t"}}},
{"encoding":{"x":{"field":"x","type":"quantitative","scale":{"domain":[24,1230]},"axis":null},"y":{"field":"y","type":"quantitative","scale":{"domain":[828,72]},"axis":null}},"layer":[
{"data":{"name":"m2"},"mark":{"type":"rect","width":18,"height":18,"clip":true},"encoding":{"color":{"field":"v","type":"quantitative","legend":null,"scale":{"domain":[0,0.115,0.35,0.48,0.62,0.85,1],"range":["#00008f","#0000ff","#00ffff","#80ff80","#ffff00","#ff0000","#800000"]}}}},
{"data":{"name":"bot"},"mark":{"type":"area","interpolate":"step-after","color":"white","clip":true},"encoding":{"y":{"field":"b","type":"quantitative"},"y2":{"datum":840}}},
{"data":{"name":"top"},"mark":{"type":"area","color":"white","clip":true},"encoding":{"y":{"field":"c","type":"quantitative"},"y2":{"field":"s"}}},
{"data":{"name":"top"},"mark":{"type":"area","color":"#bebebe","clip":true},"encoding":{"y":{"field":"c","type":"quantitative"},"y2":{"datum":72}}},
{"data":{"name":"lake"},"mark":{"type":"area","color":"white"},"encoding":{"y2":{"field":"b"}}},
{"data":{"name":"sw"},"mark":{"type":"area","color":"#bebebe"},"encoding":{"y2":{"datum":828}}},
{"data":{"name":"coast"},"mark":{"type":"line","order":null,"color":"#111","strokeWidth":1,"clip":true},"encoding":{"detail":{"field":"g"}}},
{"data":{"name":"k2"},"mark":{"type":"line","order":null,"interpolate":"catmull-rom","color":"#111","strokeWidth":1.6,"clip":true},"encoding":{"detail":{"field":"g"}}},
{"data":{"name":"c2"},"mark":{"type":"line","order":null,"interpolate":"catmull-rom","color":"#f4f4f4","strokeWidth":1.5,"clip":true},"encoding":{"detail":{"field":"g"}}},
{"data":{"name":"red"},"mark":{"type":"line","order":null,"color":"#f02020","strokeWidth":1.6}}
]},
{"data":{"name":"cb"},"mark":{"type":"rect"},"encoding":{"x":{"datum":743,"type":"quantitative","scale":{"domain":[24,1230]},"axis":null},"x2":{"datum":772},"y":{"field":"y","type":"quantitative","scale":{"domain":[828,72]},"axis":null},"y2":{"field":"b"},"color":{"field":"v","type":"quantitative","legend":null}}},
{"data":{"name":"cbt"},"mark":{"type":"text","align":"left","fontSize":8,"color":"#555"},"encoding":{"x":{"datum":782,"type":"quantitative","scale":{"domain":[24,1230]},"axis":null},"y":{"field":"y","type":"quantitative","scale":{"domain":[828,72]},"axis":null},"text":{"field":"t"}}}
]},
{"width":390,"height":252,"view":{"stroke":"#444","strokeWidth":1},"layer":[{"data":{"name":"b2"},"encoding":{"x":{"field":"p","type":"quantitative","scale":{"domain":[-26,63.4],"nice":false,"zero":false},"axis":{"values":[-20,-15,-10,-5,0,5,10,15,20,25,30,35,40,45,50,55,60],"labelExpr":"datum.value==-15||datum.value==-5?'':datum.label","title":null,"grid":false,"domain":false,"tickColor":"#333","tickSize":6,"labelColor":"#444","labelFontSize":10,"labelPadding":6,"labelOverlap":false,"labelFlush":false}}},"layer":[
{"mark":{"type":"rule","color":"#333","strokeWidth":1,"strokeDash":[3,3]},"encoding":{"y":{"field":"lo","type":"quantitative","scale":{"domain":[-0.036,0.963],"nice":false,"zero":false},"axis":{"values":[0,0.2,0.4,0.6,0.8],"format":".1f","title":null,"grid":false,"domain":false,"tickColor":"#333","tickSize":6,"labelColor":"#444","labelFontSize":10,"labelAngle":-90,"labelAlign":"center","labelBaseline":"middle","labelPadding":11}},"y2":{"field":"hi"}}},
{"mark":{"type":"tick","orient":"horizontal","size":9,"thickness":1,"color":"#333","opacity":1},"encoding":{"y":{"field":"lo","type":"quantitative"}}},
{"mark":{"type":"tick","orient":"horizontal","size":9,"thickness":1,"color":"#333","opacity":1},"encoding":{"y":{"field":"hi","type":"quantitative"}}},
{"mark":{"type":"rect","width":18,"fill":"#d3d3d3","stroke":"#555","strokeWidth":1},"encoding":{"y":{"field":"q1","type":"quantitative"},"y2":{"field":"q3"}}},
{"mark":{"type":"tick","orient":"horizontal","size":18,"thickness":2.5,"color":"black","opacity":1},"encoding":{"y":{"field":"m","type":"quantitative"}}}]},
{"data":{"name":"dash"},"mark":{"type":"rule","color":"#2a2ae8","strokeWidth":1,"strokeDash":[3,3]},"encoding":{"y":{"field":"y","type":"quantitative"}}},
{"data":{"name":"mid"},"mark":{"type":"rule","color":"#2020f0","strokeWidth":2.5},"encoding":{"y":{"field":"y","type":"quantitative"}}}
]},
{"width":402,"height":252,"layer":[
{"data":{"values":[{"t":"EffortChange  Fall"}]},"mark":{"type":"text","fontWeight":"bold","fontSize":12,"baseline":"alphabetic","color":"#222"},"encoding":{"x":{"datum":627,"type":"quantitative","scale":{"domain":[24,1230]},"axis":null},"y":{"datum":70,"type":"quantitative","scale":{"domain":[828,72]},"axis":null},"text":{"field":"t"}}},
{"encoding":{"x":{"field":"x","type":"quantitative","scale":{"domain":[24,1230]},"axis":null},"y":{"field":"y","type":"quantitative","scale":{"domain":[828,72]},"axis":null}},"layer":[
{"data":{"name":"m3"},"mark":{"type":"rect","width":18,"height":18,"clip":true},"encoding":{"color":{"field":"v","type":"quantitative","legend":null,"scale":{"domain":[0,0.115,0.35,0.48,0.62,0.85,1],"range":["#00008f","#0000ff","#00ffff","#80ff80","#ffff00","#ff0000","#800000"]}}}},
{"data":{"name":"bot"},"mark":{"type":"area","interpolate":"step-after","color":"white","clip":true},"encoding":{"y":{"field":"b","type":"quantitative"},"y2":{"datum":840}}},
{"data":{"name":"top"},"mark":{"type":"area","color":"white","clip":true},"encoding":{"y":{"field":"c","type":"quantitative"},"y2":{"field":"s"}}},
{"data":{"name":"top"},"mark":{"type":"area","color":"#bebebe","clip":true},"encoding":{"y":{"field":"c","type":"quantitative"},"y2":{"datum":72}}},
{"data":{"name":"lake"},"mark":{"type":"area","color":"white"},"encoding":{"y2":{"field":"b"}}},
{"data":{"name":"sw"},"mark":{"type":"area","color":"#bebebe"},"encoding":{"y2":{"datum":828}}},
{"data":{"name":"coast"},"mark":{"type":"line","order":null,"color":"#111","strokeWidth":1,"clip":true},"encoding":{"detail":{"field":"g"}}},
{"data":{"name":"k3"},"mark":{"type":"line","order":null,"interpolate":"catmull-rom","color":"#111","strokeWidth":2,"clip":true},"encoding":{"detail":{"field":"g"}}},
{"data":{"name":"c3"},"mark":{"type":"line","order":null,"interpolate":"catmull-rom","color":"#f4f4f4","strokeWidth":1.5,"clip":true},"encoding":{"detail":{"field":"g"}}},
{"data":{"name":"red"},"mark":{"type":"line","order":null,"color":"#f02020","strokeWidth":1.6}}
]},
{"data":{"name":"cb"},"mark":{"type":"rect"},"encoding":{"x":{"datum":743,"type":"quantitative","scale":{"domain":[24,1230]},"axis":null},"x2":{"datum":772},"y":{"field":"y","type":"quantitative","scale":{"domain":[828,72]},"axis":null},"y2":{"field":"b"},"color":{"field":"v","type":"quantitative","legend":null}}},
{"data":{"name":"cbt"},"mark":{"type":"text","align":"left","fontSize":8,"color":"#555"},"encoding":{"x":{"datum":782,"type":"quantitative","scale":{"domain":[24,1230]},"axis":null},"y":{"field":"y","type":"quantitative","scale":{"domain":[828,72]},"axis":null},"text":{"field":"t"}}}
]},
{"width":390,"height":252,"view":{"stroke":"#444","strokeWidth":1},"layer":[{"data":{"name":"b3"},"encoding":{"x":{"field":"p","type":"quantitative","scale":{"domain":[-26,63.4],"nice":false,"zero":false},"axis":{"values":[-20,-15,-10,-5,0,5,10,15,20,25,30,35,40,45,50,55,60],"labelExpr":"datum.value==-15||datum.value==-5?'':datum.label","title":null,"grid":false,"domain":false,"tickColor":"#333","tickSize":6,"labelColor":"#444","labelFontSize":10,"labelPadding":6,"labelOverlap":false,"labelFlush":false}}},"layer":[
{"mark":{"type":"rule","color":"#333","strokeWidth":1,"strokeDash":[3,3]},"encoding":{"y":{"field":"lo","type":"quantitative","scale":{"domain":[-0.04,1.031],"nice":false,"zero":false},"axis":{"values":[0,0.2,0.4,0.6,0.8,1],"format":".1f","title":null,"grid":false,"domain":false,"tickColor":"#333","tickSize":6,"labelColor":"#444","labelFontSize":10,"labelAngle":-90,"labelAlign":"center","labelBaseline":"middle","labelPadding":11}},"y2":{"field":"hi"}}},
{"mark":{"type":"tick","orient":"horizontal","size":9,"thickness":1,"color":"#333","opacity":1},"encoding":{"y":{"field":"lo","type":"quantitative"}}},
{"mark":{"type":"tick","orient":"horizontal","size":9,"thickness":1,"color":"#333","opacity":1},"encoding":{"y":{"field":"hi","type":"quantitative"}}},
{"mark":{"type":"rect","width":18,"fill":"#d3d3d3","stroke":"#555","strokeWidth":1},"encoding":{"y":{"field":"q1","type":"quantitative"},"y2":{"field":"q3"}}},
{"mark":{"type":"tick","orient":"horizontal","size":18,"thickness":2.5,"color":"black","opacity":1},"encoding":{"y":{"field":"m","type":"quantitative"}}}]},
{"data":{"name":"dash"},"mark":{"type":"rule","color":"#2a2ae8","strokeWidth":1,"strokeDash":[3,3]},"encoding":{"y":{"field":"y","type":"quantitative"}}},
{"data":{"name":"mid"},"mark":{"type":"rule","color":"#2020f0","strokeWidth":2.5},"encoding":{"y":{"field":"y","type":"quantitative"}}}
]}
]}
